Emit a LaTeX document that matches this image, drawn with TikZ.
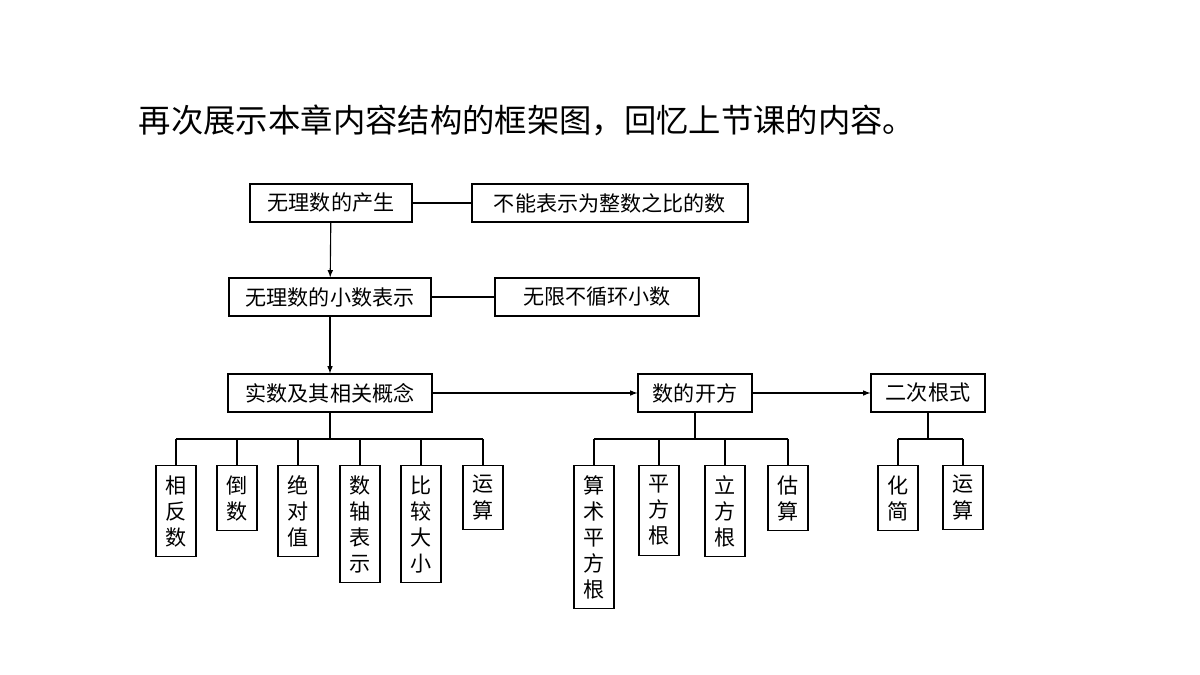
\documentclass[tikz,border=0pt]{standalone}
\usepackage{fontspec}
\setmainfont{Noto Sans CJK SC}
\usetikzlibrary{arrows,positioning}
\tikzset{
  box/.style={draw,thick,inner sep=0pt,minimum height=0.95cm,font=\fontsize{15pt}{18pt}\selectfont},
  vbox/.style={draw,thick,anchor=north,inner sep=0pt,text width=1cm,align=center,font=\fontsize{15pt}{18.5pt}\selectfont,inner ysep=7pt},
}

\begin{document}
\begin{tikzpicture}[x=0.025cm,y=-0.025cm]
    \useasboundingbox (0,0) rectangle (1200,675);
    \node[anchor=west,font=\fontsize{23pt}{26pt}\selectfont] (title) at (134,120) {再次展示本章内容结构的框架图，回忆上节课的内容。};

    % upper chain
    \node[box,minimum width=4.05cm] (origin) at (331,203) {无理数的产生};
    \node[box,minimum width=6.9cm] (ratio) at (610,203) {不能表示为整数之比的数};
    \node[box,minimum width=5.05cm] (decimal) at (330,297) {无理数的小数表示};
    \node[box,minimum width=5.1cm] (nonrep) at (597,297) {无限不循环小数};
    \draw[thick] (origin) -- (ratio);
    \draw[thick] (decimal) -- (nonrep);
    \draw[thick,->,>=latex] (origin) -- (decimal);

    % main row
    \node[box,minimum width=5.1cm] (real) at (330,393) {实数及其相关概念};
    \node[box,minimum width=2.85cm] (root) at (695,393) {数的开方};
    \node[box,minimum width=2.85cm] (surd) at (928,393) {二次根式};
    \draw[thick,->,>=latex] (decimal) -- (real);
    \draw[thick,->,>=latex] (real) -- (root);
    \draw[thick,->,>=latex] (root) -- (surd);

    % children of real
    \node[vbox] (opp) at (176,465) {相\\反\\数};
    \node[vbox] (recip) at (237,465) {倒\\数};
    \node[vbox] (absv) at (298,465) {绝\\对\\值};
    \node[vbox] (axis) at (360,465) {数\\轴\\表\\示};
    \node[vbox] (comp) at (421,465) {比\\较\\大\\小};
    \node[vbox] (ops) at (483,465) {运\\算};
    \coordinate (busreal) at (330,439);
    \draw[thick] (real) -- (busreal);
    \draw[thick] (opp |- busreal) -- (ops |- busreal);
    \foreach \to in {opp,recip,absv,axis,comp,ops}
    \draw[thick] (\to.north) -- (\to |- busreal);

    % children of root
    \node[vbox] (arith) at (594,465) {算\\术\\平\\方\\根};
    \node[vbox] (sqr) at (659,465) {平\\方\\根};
    \node[vbox] (cube) at (725,465) {立\\方\\根};
    \node[vbox] (est) at (788,465) {估\\算};
    \coordinate (busroot) at (695,439);
    \draw[thick] (root) -- (busroot);
    \draw[thick] (arith |- busroot) -- (est |- busroot);
    \foreach \to in {arith,sqr,cube,est}
    \draw[thick] (\to.north) -- (\to |- busroot);

    % children of surd
    \node[vbox] (simp) at (898,465) {化\\简};
    \node[vbox] (sops) at (963,465) {运\\算};
    \coordinate (bussurd) at (928,439);
    \draw[thick] (surd) -- (bussurd);
    \draw[thick] (simp |- bussurd) -- (sops |- bussurd);
    \foreach \to in {simp,sops}
    \draw[thick] (\to.north) -- (\to |- bussurd);
\end{tikzpicture}
\end{document}
